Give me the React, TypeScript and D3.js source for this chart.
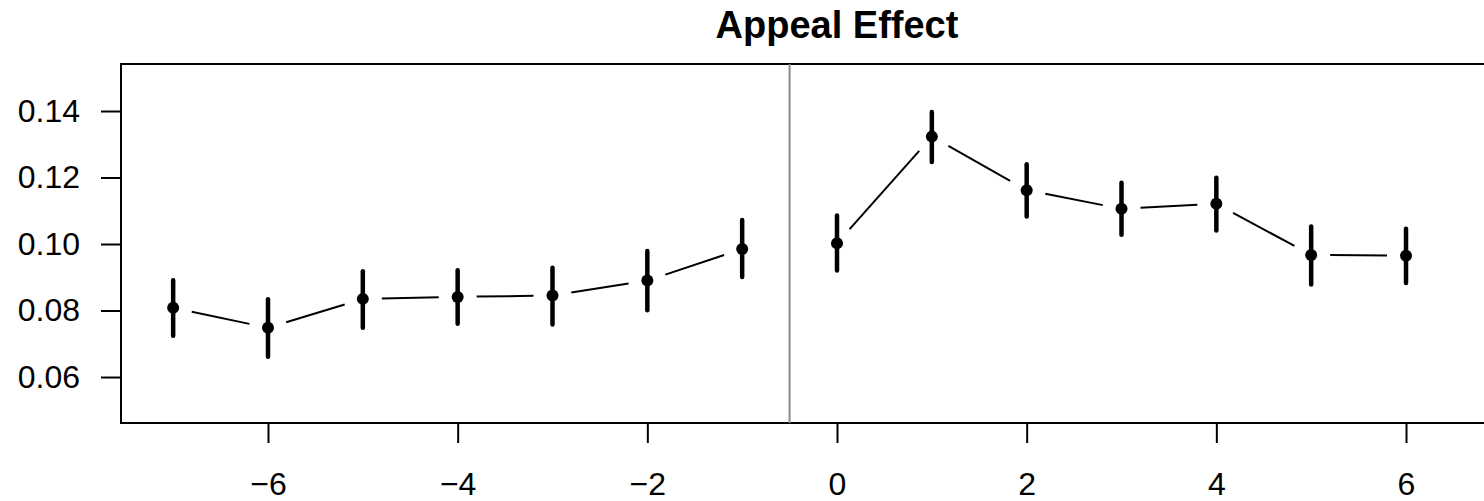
import React from "react";
import * as d3 from "d3";

// lag relative to the appeal, point estimate and interval ends
const lags = [-7, -6, -5, -4, -3, -2, -1, 0, 1, 2, 3, 4, 5, 6];
const estimates = [
  0.0808, 0.0748, 0.0835, 0.0841, 0.0845, 0.089, 0.0985, 0.1002, 0.1323,
  0.1162, 0.1106, 0.1121, 0.0967, 0.0965,
];
const lower = [
  0.0718, 0.0655, 0.0742, 0.0754, 0.0752, 0.0795, 0.0895, 0.0914, 0.1241,
  0.1077, 0.1022, 0.1035, 0.0872, 0.0877,
];
const upper = [
  0.0897, 0.084, 0.0924, 0.0927, 0.0935, 0.0985, 0.1078, 0.1092, 0.1403,
  0.1246, 0.119, 0.1205, 0.1059, 0.1052,
];
const xTicks = [-6, -4, -2, 0, 2, 4, 6];
const yTicks = [0.06, 0.08, 0.1, 0.12, 0.14];
const title = "Appeal Effect";

type Pt = { lag: number; est: number; lo: number; hi: number };

export default class App extends React.Component {
  svgRef = React.createRef<SVGSVGElement>();

  componentDidMount() {
    this.draw();
  }

  draw = () => {
    const width = 1484;
    const height = 501;
    const margin = { top: 64, left: 121, bottom: 78 };
    const font = "'Liberation Sans', Arial, Helvetica, sans-serif";

    const svg = d3.select(this.svgRef.current!);
    svg.selectAll("*").remove();

    const xScale = d3
      .scaleLinear()
      .domain([-7.55, 7.55])
      .range([margin.left, margin.left + 1432]);
    const yScale = d3
      .scaleLinear()
      .domain([0.04617, 0.15414])
      .range([height - margin.bottom, margin.top]);

    const data: Pt[] = lags.map((lag, i) => ({
      lag,
      est: estimates[i],
      lo: lower[i],
      hi: upper[i],
    }));

    // title
    svg
      .append("text")
      .attr("x", xScale(0))
      .attr("y", 38)
      .attr("text-anchor", "middle")
      .attr("font-family", font)
      .attr("font-weight", "bold")
      .attr("font-size", 38)
      .text(title);

    // y axis
    const yAxis = svg
      .append("g")
      .attr("transform", `translate(${margin.left},0)`)
      .call(
        d3
          .axisLeft(yScale)
          .tickValues(yTicks)
          .tickSize(20)
          .tickPadding(21)
          .tickFormat(d3.format(".2f"))
      );
    yAxis.select(".domain").remove();
    yAxis.selectAll("line").attr("stroke", "#000").attr("stroke-width", 2);
    yAxis
      .selectAll("text")
      .attr("font-family", font)
      .attr("font-size", 32)
      .attr("fill", "#000");

    // x axis
    const xAxis = svg
      .append("g")
      .attr("transform", `translate(0,${height - margin.bottom})`)
      .call(
        d3
          .axisBottom(xScale)
          .tickValues(xTicks)
          .tickSize(20)
          .tickPadding(29)
          .tickFormat(d3.format("d"))
      );
    xAxis.select(".domain").remove();
    xAxis.selectAll("line").attr("stroke", "#000").attr("stroke-width", 2);
    xAxis
      .selectAll("text")
      .attr("font-family", font)
      .attr("font-size", 32)
      .attr("fill", "#000");

    // plot box
    svg
      .append("rect")
      .attr("x", xScale(-7.55))
      .attr("y", yScale(0.15414))
      .attr("width", xScale(7.55) - xScale(-7.55))
      .attr("height", yScale(0.04617) - yScale(0.15414))
      .attr("fill", "none")
      .attr("stroke", "#000")
      .attr("stroke-width", 2);

    // separator between pre and post
    svg
      .append("line")
      .attr("x1", xScale(-0.5))
      .attr("x2", xScale(-0.5))
      .attr("y1", yScale(0.15414))
      .attr("y2", yScale(0.04617))
      .attr("stroke", "#888")
      .attr("stroke-width", 2);

    // connecting segments, type = "b" style with gaps around points
    const gap = 19;
    const groups = [data.filter((d) => d.lag < 0), data.filter((d) => d.lag >= 0)];
    groups.forEach((g) => {
      for (let i = 0; i < g.length - 1; i++) {
        const x0 = xScale(g[i].lag);
        const y0 = yScale(g[i].est);
        const x1 = xScale(g[i + 1].lag);
        const y1 = yScale(g[i + 1].est);
        const len = Math.hypot(x1 - x0, y1 - y0);
        if (len <= 2 * gap) continue;
        const dx = ((x1 - x0) / len) * gap;
        const dy = ((y1 - y0) / len) * gap;
        svg
          .append("line")
          .attr("x1", x0 + dx)
          .attr("y1", y0 + dy)
          .attr("x2", x1 - dx)
          .attr("y2", y1 - dy)
          .attr("stroke", "#000")
          .attr("stroke-width", 2);
      }
    });

    // error bars
    svg
      .selectAll(".ci")
      .data(data)
      .enter()
      .append("line")
      .attr("class", "ci")
      .attr("x1", (d) => xScale(d.lag))
      .attr("x2", (d) => xScale(d.lag))
      .attr("y1", (d) => yScale(d.lo) - 2)
      .attr("y2", (d) => yScale(d.hi) + 2)
      .attr("stroke", "#000")
      .attr("stroke-width", 4.5)
      .attr("stroke-linecap", "round");

    // points
    svg
      .selectAll(".pt")
      .data(data)
      .enter()
      .append("circle")
      .attr("class", "pt")
      .attr("cx", (d) => xScale(d.lag))
      .attr("cy", (d) => yScale(d.est))
      .attr("r", 6)
      .attr("fill", "#000");

    svg.attr("width", width).attr("height", height);
  };

  render() {
    return (
      <svg
        ref={this.svgRef}
        width={1484}
        height={501}
        style={{ position: "absolute", left: 0, top: 0, background: "#fff" }}
      />
    );
  }
}
